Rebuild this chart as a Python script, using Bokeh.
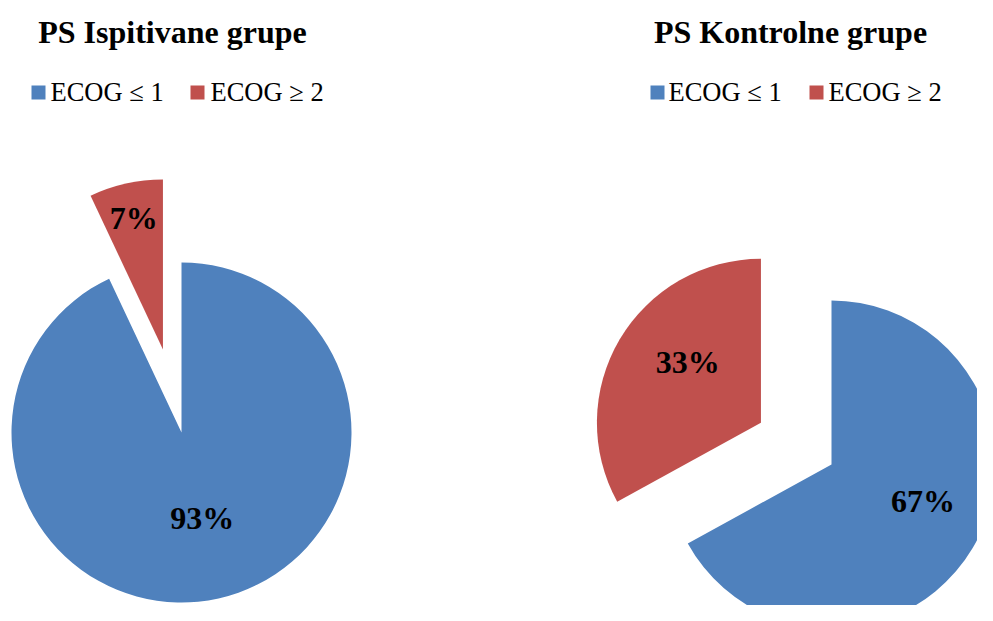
import math
from bokeh.plotting import figure
from bokeh.models import Range1d, ColumnDataSource
from bokeh.core.properties import value
from bokeh.embed import file_html
from bokeh.resources import INLINE

# ---- data ----
categories = ["ECOG \u2264 1", "ECOG \u2265 2"]
ispitivana = [93, 7]
kontrolna = [67, 33]
titles = ["PS Ispitivane grupe", "PS Kontrolne grupe"]
colors = ["#4F81BD", "#C0504D"]

# ---- layout (pixels; data units == screen pixels) ----
W, H = 977, 605
FONT = "Liberation Serif"
pies = [
    dict(vals=ispitivana, cx=181, cy=189, r=170, explode=[0, 85],
         lab_frac=[0.52, 0.79], lab_shift=[1, 0], title_x=172,
         leg_sq=[38, 197], leg_tx=[50, 210]),
    dict(vals=kontrolna, cx=831, cy=157, r=164, explode=[0, 82],
         lab_frac=[0.60, 0.58], lab_shift=[9, -9], title_x=790,
         leg_sq=[657, 816], leg_tx=[668, 828]),
]

p = figure(width=W, height=H, x_range=Range1d(0, W), y_range=Range1d(621 - H, 621),
           output_backend="svg", toolbar_location=None, min_border=0,
           x_axis_type=None, y_axis_type=None, outline_line_color=None,
           background_fill_color="white", border_fill_color="white")
p.xgrid.visible = False
p.ygrid.visible = False

for i, pie in enumerate(pies):
    vals = pie["vals"]
    total = float(sum(vals))
    cum = 0.0
    wx, wy, sa, ea, lx, ly, lt = [], [], [], [], [], [], []
    for j, v in enumerate(vals):
        a0 = 90 - cum / total * 360.0
        cum += v
        a1 = 90 - cum / total * 360.0
        mid = math.radians((a0 + a1) / 2)
        cx = pie["cx"] + pie["explode"][j] * math.cos(mid)
        cy = pie["cy"] + pie["explode"][j] * math.sin(mid)
        wx.append(cx); wy.append(cy)
        sa.append(math.radians(a1)); ea.append(math.radians(a0))
        lm = mid + math.radians(pie["lab_shift"][j])
        d = pie["lab_frac"][j] * pie["r"]
        lx.append(cx + d * math.cos(lm)); ly.append(cy + d * math.sin(lm))
        lt.append(f"{v}%")
    src = ColumnDataSource(dict(x=wx, y=wy, s=sa, e=ea, c=colors))
    p.wedge(x="x", y="y", radius=pie["r"], start_angle="s", end_angle="e",
            direction="anticlock", fill_color="c", line_color=None, source=src)
    p.text(x=lx, y=ly, text=lt, text_font=value(FONT), text_font_style="bold",
           text_font_size="32px", text_align="center", text_baseline="middle",
           text_color="black")
    # title
    p.text(x=[pie["title_x"]], y=[589.5], text=[titles[i]], text_font=value(FONT),
           text_font_style="bold", text_font_size="32px", text_align="center",
           text_baseline="middle", text_color="black")
    # legend
    p.rect(x=pie["leg_sq"], y=[529, 529], width=14, height=14,
           fill_color=colors, line_color=None)
    p.text(x=pie["leg_tx"], y=[529.5, 529.5], text=categories, text_font=value(FONT),
           text_font_size="26.5px", text_align="left", text_baseline="middle",
           text_color="black")

open("out.html", "w").write(file_html(p, INLINE))
